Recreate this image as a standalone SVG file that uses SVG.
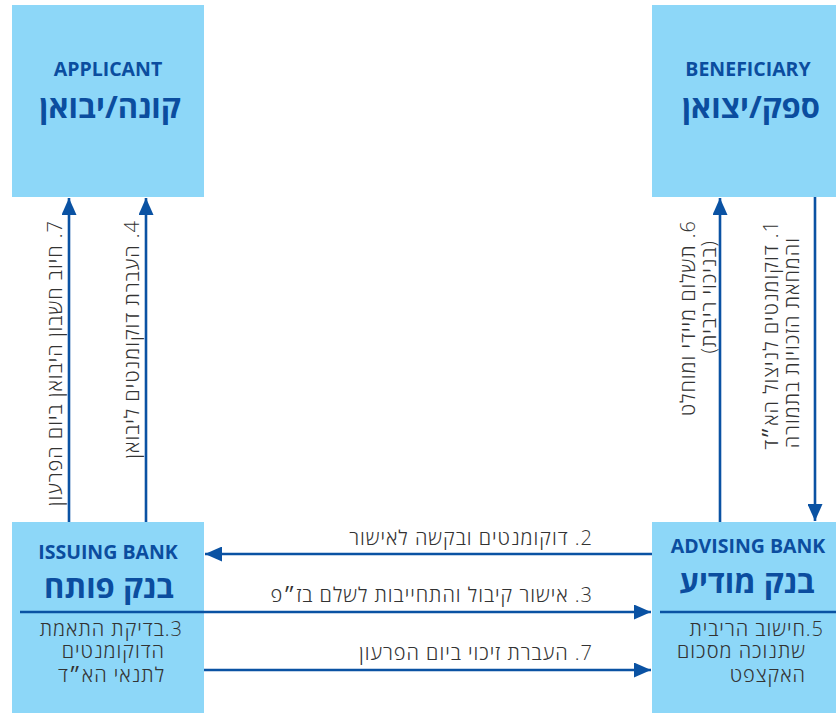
<svg xmlns="http://www.w3.org/2000/svg" width="836" height="713" viewBox="0 0 836 713">
<style>
.box{fill:#8dd7f8}
.h{font-family:"Open Sans","Liberation Sans","DejaVu Sans",sans-serif;font-weight:700;fill:#0b4d9f;text-anchor:middle}
.en{font-size:19.5px}
.he{font-size:31px}
.lbl{font-family:"Open Sans","Liberation Sans","DejaVu Sans",sans-serif;font-size:20px;letter-spacing:1px;fill:#333333;font-weight:300}
.rtl{direction:rtl;unicode-bidi:embed;text-anchor:start}
.conn{stroke:#0a52a3;stroke-width:2.6;fill:none}
.sep{stroke:#0a52a3;stroke-width:2.6}
</style>
<defs>
<marker id="ah" markerUnits="userSpaceOnUse" markerWidth="17" markerHeight="15" refX="17" refY="7.5" orient="auto">
<path d="M0,0 L17,7.5 L0,15 z" fill="#0a52a3"/>
</marker>
</defs>
<rect width="836" height="713" fill="#ffffff"/>

<g id="applicant">
<rect class="box" x="12" y="5" width="192" height="192"/>
<text class="h en" x="108" y="76">APPLICANT</text>
<text class="h he" x="110" y="118" direction="rtl">קונה/יבואן</text>
</g>

<g id="beneficiary">
<rect class="box" x="652" y="5" width="192" height="192"/>
<text class="h en" x="748" y="76">BENEFICIARY</text>
<text class="h he" x="751" y="118" direction="rtl">ספק/יצואן</text>
</g>

<g id="issuing-bank">
<rect class="box" x="12" y="522" width="192" height="191"/>
<text class="h en" x="108" y="559">ISSUING BANK</text>
<text class="h he" x="109" y="598" direction="rtl">בנק פותח</text>
<line class="sep" x1="20" y1="612" x2="204" y2="612"/>
<text class="lbl rtl" x="183" y="636">3.בדיקת התאמת</text>
<text class="lbl rtl" x="165" y="658">הדוקומנטים</text>
<text class="lbl rtl" x="165" y="682">לתנאי הא״ד</text>
</g>

<g id="advising-bank">
<rect class="box" x="652" y="522" width="192" height="191"/>
<text class="h en" x="748" y="553">ADVISING BANK</text>
<text class="h he" x="747" y="593" direction="rtl">בנק מודיע</text>
<line class="sep" x1="660" y1="612" x2="836" y2="612"/>
<text class="lbl rtl" x="824" y="636">5.חישוב הריבית</text>
<text class="lbl rtl" x="806" y="658">שתנוכה מסכום</text>
<text class="lbl rtl" x="806" y="682">האקצפט</text>
</g>

<g id="connectors">
<path class="conn" d="M69,522 L69,198" marker-end="url(#ah)"/>
<path class="conn" d="M146,522 L146,198" marker-end="url(#ah)"/>
<path class="conn" d="M720,522 L720,198" marker-end="url(#ah)"/>
<path class="conn" d="M815,197 L815,521" marker-end="url(#ah)"/>
<path class="conn" d="M652,554 L205,554" marker-end="url(#ah)"/>
<path class="conn" d="M204,612 L651,612" marker-end="url(#ah)"/>
<path class="conn" d="M204,670 L651,670" marker-end="url(#ah)"/>
</g>

<g id="labels">
<text class="lbl rtl" x="593" y="545">2. דוקומנטים ובקשה לאישור</text>
<text class="lbl rtl" x="593" y="602">3. אישור קיבול והתחייבות לשלם בז״פ</text>
<text class="lbl rtl" x="593" y="660">7. העברת זיכוי ביום הפרעון</text>
<text class="lbl rtl" transform="translate(62,220) rotate(-90)" x="0" y="0">7. חיוב חשבון היבואן ביום הפרעון</text>
<text class="lbl rtl" transform="translate(139,220) rotate(-90)" x="0" y="0">4. העברת דוקומנטים ליבואן</text>
<text class="lbl rtl" transform="translate(695,220) rotate(-90)" x="0" y="0">6. תשלום מיידי ומוחלט</text>
<text class="lbl rtl" transform="translate(716,240) rotate(-90)" x="0" y="0">(בניכוי ריבית)</text>
<text class="lbl rtl" transform="translate(778,220) rotate(-90)" x="0" y="0">1. דוקומנטים לניצול הא״ד</text>
<text class="lbl rtl" transform="translate(799,237) rotate(-90)" x="0" y="0">והמחאת הזכויות בתמורה</text>
</g>
</svg>
